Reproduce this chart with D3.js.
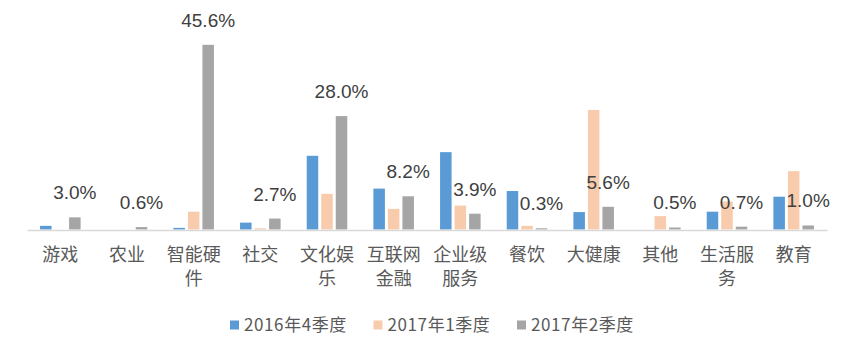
<!DOCTYPE html>
<html>
<head>
<meta charset="utf-8">
<script src="https://cdn.jsdelivr.net/npm/d3@7/dist/d3.min.js"></script>
<style>
  html, body { margin: 0; padding: 0; background: #ffffff; }
  svg { display: block; }
</style>
</head>
<body>
<svg id="chart" width="856" height="361"></svg>
<script>
// ---- data ----
const categories = ["游戏", "农业", "智能硬件", "社交", "文化娱乐", "互联网金融", "企业级服务", "餐饮", "大健康", "其他", "生活服务", "教育"];
const seriesNames = ["2016年4季度", "2017年1季度", "2017年2季度"];
const q4_2016 = [0.9, 0.0, 0.4, 1.7, 18.2, 10.1, 19.1, 9.5, 4.3, 0.0, 4.4, 8.1];
const q1_2017 = [0.0, 0.0, 4.4, 0.3, 8.8, 5.1, 5.9, 0.9, 29.5, 3.3, 6.9, 14.4];
const q2_2017 = [3.0, 0.6, 45.6, 2.7, 28.0, 8.2, 3.9, 0.3, 5.6, 0.5, 0.7, 1.0];
const seriesValues = [q4_2016, q1_2017, q2_2017];
const colors = ["#5b9bd5", "#f8cbad", "#a5a5a5"];

// ---- layout ----
const svg = d3.select("#chart");
const left = 27, right = 827, baseY = 229.5, topY = 27;

const x0 = d3.scaleBand().domain(categories).range([left, right]).paddingInner(0).paddingOuter(0);
const x1 = d3.scaleBand().domain(seriesNames).range([0, x0.bandwidth()]).paddingInner(0.207).paddingOuter(0.9);
const y = d3.scaleLinear().domain([0, 50]).range([baseY, topY]);

// bars
const groups = svg.append("g").selectAll("g")
  .data(categories)
  .join("g")
  .attr("transform", d => `translate(${x0(d)},0)`);

groups.selectAll("rect")
  .data((d, i) => seriesNames.map((s, k) => ({ s, k, v: seriesValues[k][i] })))
  .join("rect")
  .attr("x", d => x1(d.s))
  .attr("width", x1.bandwidth())
  .attr("y", d => y(d.v))
  .attr("height", d => baseY - y(d.v))
  .attr("fill", d => colors[d.k]);

// data labels for the latest series
svg.append("g").selectAll("text")
  .data(categories)
  .join("text")
  .attr("x", d => x0(d) + x1(seriesNames[2]) + x1.bandwidth() / 2)
  .attr("y", (d, i) => y(q2_2017[i]) - 18)
  .attr("text-anchor", "middle")
  .attr("font-family", "'Liberation Sans', Arial, sans-serif")
  .attr("font-size", 19)
  .attr("fill", "#404040")
  .text((d, i) => d3.format(".1f")(q2_2017[i]) + "%");

// x axis
const axis = svg.append("g")
  .attr("transform", `translate(0,${baseY + 0.5})`)
  .call(d3.axisBottom(x0).tickSize(0).tickPadding(0));
axis.select(".domain").attr("stroke", "#d9d9d9").attr("stroke-width", 1.5);
axis.selectAll(".tick text")
  .attr("font-family", "'Noto Sans CJK SC', sans-serif")
  .attr("font-size", 18)
  .attr("fill", "#595959")
  .attr("y", 0)
  .attr("dy", null)
  .each(function (d) {
    const t = d3.select(this);
    t.text(null);
    const lines = d.length > 3 ? [d.slice(0, 3), d.slice(3)] : [d];
    lines.forEach((ln, j) => {
      t.append("tspan").attr("x", 0).attr("y", 31 + j * 24).text(ln);
    });
  });

// legend
const legend = svg.append("g");
seriesNames.forEach((s, k) => {
  const lx = 230 + k * 143.5;
  legend.append("rect").attr("x", lx).attr("y", 320.5).attr("width", 9).attr("height", 9).attr("fill", colors[k]);
  legend.append("text").attr("x", lx + 14).attr("y", 331)
    .attr("font-family", "'Noto Sans CJK SC', sans-serif")
    .attr("font-size", 17)
    .attr("letter-spacing", 0.6)
    .attr("fill", "#595959")
    .text(s);
});
</script>
</body>
</html>
